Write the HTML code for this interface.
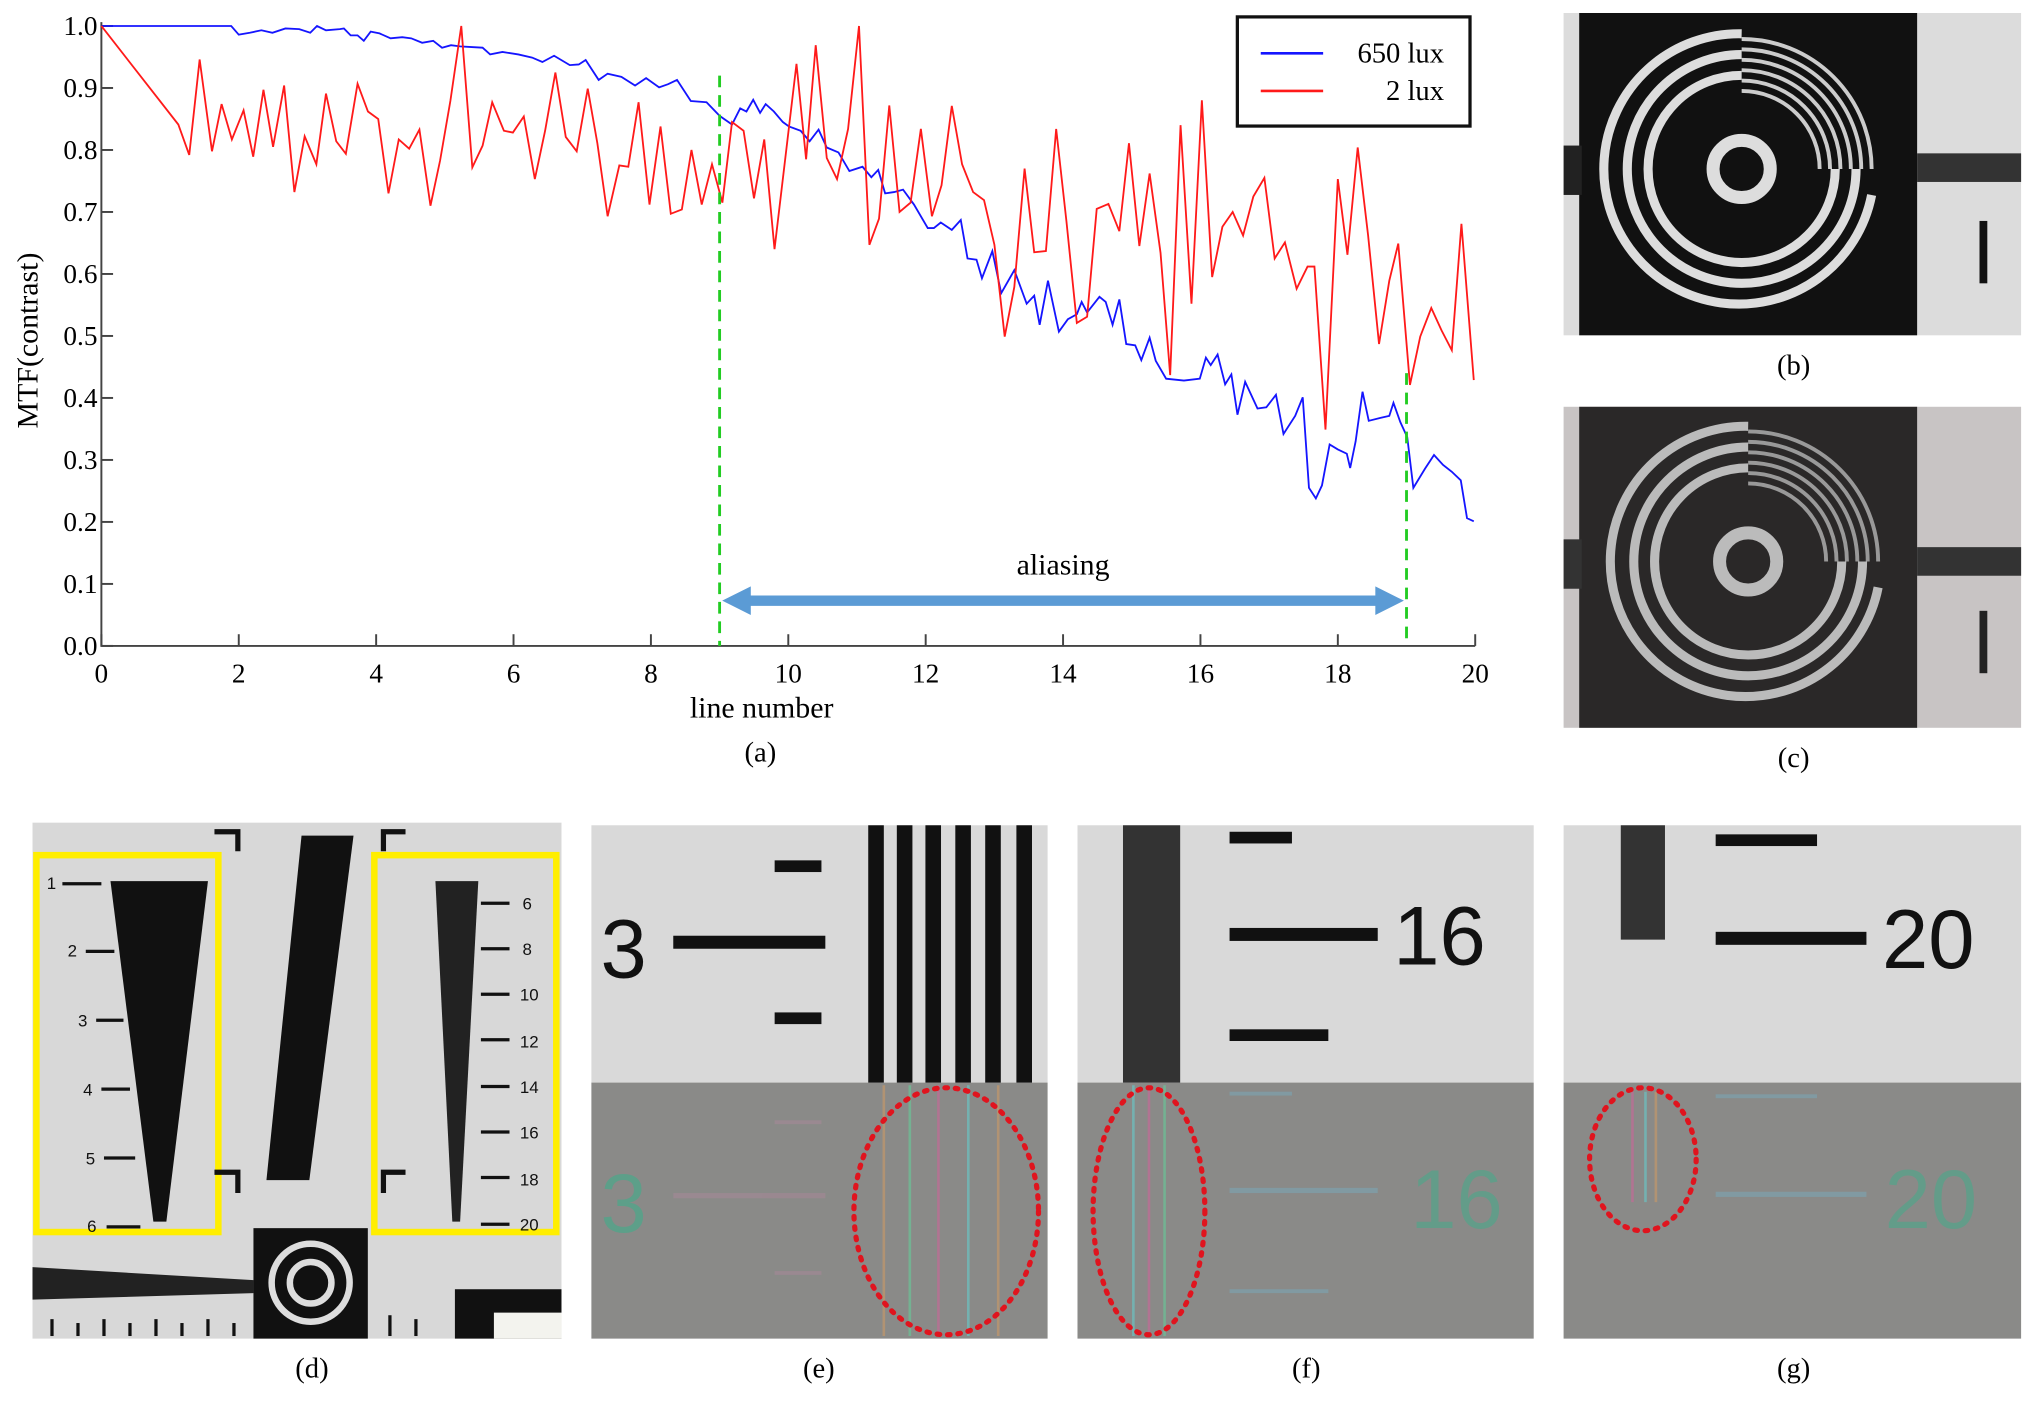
<!DOCTYPE html>
<html><head><meta charset="utf-8"><style>
html,body{margin:0;padding:0;background:#fff;}
svg{display:block;font-family:"Liberation Serif",serif;}
</style></head><body>
<svg id="fig" width="2038" height="1401" viewBox="0 0 1568 1078" preserveAspectRatio="none" xmlns="http://www.w3.org/2000/svg">
<rect width="1568" height="1078" fill="#fff"/>
<g id="chart"></g>

<!-- panel b -->
<g>
<rect x="1203" y="10" width="352" height="248" fill="#dcdcdc"/>
<rect x="1215" y="10" width="260" height="248" fill="#111"/>
<rect x="1203" y="112" width="14" height="38" fill="#222"/>
<rect x="1475" y="118" width="80" height="22" fill="#333"/>
<rect x="1523" y="170" width="6" height="48" fill="#111"/>
<g fill="none" stroke="#ddd" stroke-width="7">
<circle cx="1340" cy="130" r="22" stroke-width="10"/>
<path d="M1340 58 A72 72 0 1 0 1412 130"/><path d="M1340 42 A88 88 0 1 0 1428 130"/>
<path d="M1340 26 A104 104 0 1 0 1440 150"/>
</g>
<g fill="none" stroke="#ccc" stroke-width="3">
<path d="M1340 70 A60 60 0 0 1 1400 130"/><path d="M1340 62 A68 68 0 0 1 1408 130"/><path d="M1340 54 A76 76 0 0 1 1416 130"/><path d="M1340 46 A84 84 0 0 1 1424 130"/><path d="M1340 38 A92 92 0 0 1 1432 130"/><path d="M1340 30 A100 100 0 0 1 1440 130"/>
</g>
</g>
<text x="1380" y="288" font-size="22" text-anchor="middle">(b)</text>
<!-- panel c -->
<g>
<rect x="1203" y="313" width="352" height="247" fill="#c8c4c4"/>
<rect x="1215" y="313" width="260" height="247" fill="#2a2828"/>
<rect x="1203" y="415" width="14" height="38" fill="#333"/>
<rect x="1475" y="421" width="80" height="22" fill="#333"/>
<rect x="1523" y="470" width="6" height="48" fill="#222"/>
<g fill="none" stroke="#bbb" stroke-width="7">
<circle cx="1345" cy="432" r="22" stroke-width="10"/>
<path d="M1345 360 A72 72 0 1 0 1417 432"/><path d="M1345 344 A88 88 0 1 0 1433 432"/>
<path d="M1345 328 A104 104 0 1 0 1445 452"/>
</g>
<g fill="none" stroke="#999" stroke-width="3">
<path d="M1345 372 A60 60 0 0 1 1405 432"/><path d="M1345 364 A68 68 0 0 1 1413 432"/><path d="M1345 356 A76 76 0 0 1 1421 432"/><path d="M1345 348 A84 84 0 0 1 1429 432"/><path d="M1345 340 A92 92 0 0 1 1437 432"/><path d="M1345 332 A100 100 0 0 1 1445 432"/>
</g>
</g>
<text x="1380" y="590" font-size="22" text-anchor="middle">(c)</text>

<!-- panel d -->
<g>
<rect x="25" y="633" width="407" height="397" fill="#d8d8d8"/>
<polygon points="232,643 272,643 238,908 205,908" fill="#111"/>
<rect x="28" y="658" width="140" height="290" fill="none" stroke="#ffee00" stroke-width="5"/>
<rect x="288" y="658" width="140" height="290" fill="none" stroke="#ffee00" stroke-width="5"/>
<path d="M85 678 L160 678 L128 940 L118 940 Z" fill="#111"/>
<path d="M335 678 L368 678 L354 940 L348 940 Z" fill="#222"/>
<g stroke="#111" stroke-width="2.5">
<line x1="48" y1="680" x2="78" y2="680"/><line x1="66" y1="732" x2="88" y2="732"/><line x1="74" y1="785" x2="95" y2="785"/><line x1="78" y1="838" x2="100" y2="838"/><line x1="80" y1="891" x2="104" y2="891"/><line x1="82" y1="944" x2="108" y2="944"/>
<line x1="370" y1="695" x2="392" y2="695"/><line x1="370" y1="730" x2="392" y2="730"/><line x1="370" y1="765" x2="392" y2="765"/><line x1="370" y1="800" x2="392" y2="800"/><line x1="370" y1="836" x2="392" y2="836"/><line x1="370" y1="871" x2="392" y2="871"/><line x1="370" y1="906" x2="392" y2="906"/><line x1="370" y1="942" x2="392" y2="942"/>
<line x1="40" y1="1015" x2="40" y2="1028"/><line x1="60" y1="1018" x2="60" y2="1028"/><line x1="80" y1="1015" x2="80" y2="1028"/><line x1="100" y1="1018" x2="100" y2="1028"/><line x1="120" y1="1015" x2="120" y2="1028"/><line x1="140" y1="1018" x2="140" y2="1028"/><line x1="160" y1="1015" x2="160" y2="1028"/><line x1="180" y1="1018" x2="180" y2="1028"/>
<line x1="300" y1="1012" x2="300" y2="1028"/><line x1="320" y1="1015" x2="320" y2="1028"/>
</g>
<path d="M165 640 L183 640 L183 655 M295 655 L295 640 L312 640 M165 902 L183 902 L183 918 M295 918 L295 902 L312 902" fill="none" stroke="#111" stroke-width="4"/>
<rect x="195" y="945" width="88" height="85" fill="#111"/>
<circle cx="239" cy="987" r="30" fill="none" stroke="#ddd" stroke-width="5"/>
<circle cx="239" cy="987" r="16" fill="none" stroke="#ddd" stroke-width="5"/>
<polygon points="25,975 195,985 195,995 25,1000" fill="#222"/>
<rect x="350" y="992" width="82" height="38" fill="#111"/>
<rect x="380" y="1010" width="52" height="20" fill="#f3f3ee"/>
<g font-family="Liberation Sans,sans-serif" font-size="13" fill="#111">
<text x="36" y="684">1</text><text x="52" y="736">2</text><text x="60" y="790">3</text><text x="64" y="843">4</text><text x="66" y="896">5</text><text x="67" y="948">6</text>
<text x="402" y="700">6</text><text x="402" y="735">8</text><text x="400" y="770">10</text><text x="400" y="806">12</text><text x="400" y="841">14</text><text x="400" y="876">16</text><text x="400" y="912">18</text><text x="400" y="947">20</text>
</g>
</g>
<text x="240" y="1060" font-size="22" text-anchor="middle">(d)</text>

<!-- panel e -->
<g>
<rect x="455" y="635" width="351" height="198" fill="#d9d9d9"/>
<rect x="455" y="833" width="351" height="197" fill="#8a8a88"/>
<text x="462" y="752" font-family="Liberation Sans,sans-serif" font-size="64" fill="#111">3</text>
<rect x="518" y="720" width="117" height="10" fill="#111"/><rect x="596" y="662" width="36" height="9" fill="#111"/><rect x="596" y="779" width="36" height="9" fill="#111"/>
<g fill="#111"><rect x="668" y="635" width="12" height="198"/><rect x="690" y="635" width="12" height="198"/><rect x="712" y="635" width="12" height="198"/><rect x="735" y="635" width="12" height="198"/><rect x="758" y="635" width="12" height="198"/><rect x="782" y="635" width="12" height="198"/></g>
<g stroke-width="2" opacity="0.6"><line x1="680" y1="835" x2="680" y2="1028" stroke="#c96"/><line x1="700" y1="835" x2="700" y2="1028" stroke="#6c9"/><line x1="722" y1="835" x2="722" y2="1028" stroke="#c69"/><line x1="745" y1="835" x2="745" y2="1028" stroke="#6cc"/><line x1="768" y1="835" x2="768" y2="1028" stroke="#c96"/></g>
<g fill="#a89" opacity="0.5"><rect x="518" y="918" width="117" height="4"/><rect x="596" y="862" width="36" height="3"/><rect x="596" y="978" width="36" height="3"/></g>
<text x="462" y="948" font-family="Liberation Sans,sans-serif" font-size="64" fill="#4aa88a" opacity="0.7">3</text>
<ellipse cx="728" cy="932" rx="71" ry="95" fill="none" stroke="#e0141e" stroke-width="4" stroke-dasharray="2,6" stroke-linecap="round"/>
</g>
<text x="630" y="1060" font-size="22" text-anchor="middle">(e)</text>

<!-- panel f -->
<g>
<rect x="829" y="635" width="351" height="198" fill="#d9d9d9"/>
<rect x="829" y="833" width="351" height="197" fill="#8a8a88"/>
<rect x="864" y="635" width="44" height="198" fill="#333"/>
<rect x="946" y="640" width="48" height="9" fill="#111"/><rect x="946" y="714" width="114" height="10" fill="#111"/><rect x="946" y="792" width="76" height="9" fill="#111"/>
<text x="1072" y="742" font-family="Liberation Sans,sans-serif" font-size="64" fill="#111">16</text>
<g stroke-width="2" opacity="0.6"><line x1="872" y1="835" x2="872" y2="1028" stroke="#6cc"/><line x1="884" y1="835" x2="884" y2="1028" stroke="#c69"/><line x1="896" y1="835" x2="896" y2="1028" stroke="#6c9"/></g>
<g fill="#7ab" opacity="0.5"><rect x="946" y="914" width="114" height="4"/><rect x="946" y="840" width="48" height="3"/><rect x="946" y="992" width="76" height="3"/></g>
<text x="1085" y="945" font-family="Liberation Sans,sans-serif" font-size="64" fill="#4aa88a" opacity="0.6">16</text>
<ellipse cx="884" cy="932" rx="43" ry="95" fill="none" stroke="#e0141e" stroke-width="4" stroke-dasharray="2,6" stroke-linecap="round"/>
</g>
<text x="1005" y="1060" font-size="22" text-anchor="middle">(f)</text>

<!-- panel g -->
<g>
<rect x="1203" y="635" width="352" height="198" fill="#d9d9d9"/>
<rect x="1203" y="833" width="352" height="197" fill="#8a8a88"/>
<rect x="1247" y="635" width="34" height="88" fill="#333"/>
<rect x="1320" y="642" width="78" height="9" fill="#111"/><rect x="1320" y="717" width="116" height="10" fill="#111"/>
<text x="1448" y="745" font-family="Liberation Sans,sans-serif" font-size="64" fill="#111">20</text>
<g stroke-width="2" opacity="0.6"><line x1="1256" y1="840" x2="1256" y2="925" stroke="#c69"/><line x1="1266" y1="840" x2="1266" y2="925" stroke="#6cc"/><line x1="1274" y1="840" x2="1274" y2="925" stroke="#c96"/></g>
<g fill="#7ab" opacity="0.5"><rect x="1320" y="917" width="116" height="4"/><rect x="1320" y="842" width="78" height="3"/></g>
<text x="1450" y="945" font-family="Liberation Sans,sans-serif" font-size="64" fill="#4aa88a" opacity="0.6">20</text>
<ellipse cx="1264" cy="892" rx="41" ry="55" fill="none" stroke="#e0141e" stroke-width="4" stroke-dasharray="2,6" stroke-linecap="round"/>
</g>
<text x="1380" y="1060" font-size="22" text-anchor="middle">(g)</text>
</svg>
<script>
const xTicks = [0,2,4,6,8,10,12,14,16,18,20];
const yTicks = [0,0.1,0.2,0.3,0.4,0.5,0.6,0.7,0.8,0.9,1.0];
const yTickLabels = ["0.0","0.1","0.2","0.3","0.4","0.5","0.6","0.7","0.8","0.9","1.0"];
const redX = [0,1.12,1.28,1.43,1.61,1.75,1.90,2.07,2.21,2.36,2.50,2.66,2.81,2.96,3.13,3.27,3.42,3.56,3.73,3.88,4.03,4.18,4.33,4.48,4.63,4.79,4.93,5.08,5.24,5.40,5.55,5.69,5.86,5.99,6.15,6.31,6.46,6.61,6.76,6.92,7.08,7.22,7.37,7.54,7.67,7.82,7.98,8.14,8.29,8.45,8.59,8.74,8.89,9.04,9.18,9.35,9.50,9.65,9.80,
10.12,10.26,10.40,10.56,10.71,10.87,11.03,11.18,11.32,11.47,11.62,11.78,11.93,12.09,12.23,12.38,12.53,12.69,12.85,13.00,13.15,13.29,13.44,13.58,13.75,13.90,14.05,14.20,14.35,14.49,14.66,14.82,14.96,15.11,15.26,15.42,15.56,15.71,15.87,16.02,16.17,16.32,16.47,16.62,16.77,16.93,17.08,17.23,17.40,17.56,17.66,17.82,18.00,18.14,18.29,18.44,18.60,18.75,18.88,19.05,19.20,19.36,19.51,19.66,19.80,19.98];
const redY = [1.0,0.841,0.792,0.946,0.798,0.874,0.817,0.864,0.789,0.897,0.805,0.904,0.732,0.822,0.777,0.891,0.814,0.794,0.907,0.862,0.850,0.730,0.817,0.802,0.833,0.710,0.783,0.879,1.0,0.772,0.807,0.877,0.831,0.828,0.854,0.753,0.831,0.925,0.821,0.798,0.899,0.811,0.693,0.775,0.773,0.877,0.712,0.838,0.697,0.704,0.800,0.712,0.777,0.715,0.845,0.831,0.722,0.817,0.640,
0.939,0.785,0.969,0.787,0.753,0.834,1.0,0.647,0.689,0.872,0.700,0.715,0.834,0.693,0.743,0.871,0.777,0.732,0.719,0.647,0.499,0.579,0.770,0.635,0.637,0.834,0.685,0.521,0.531,0.705,0.713,0.669,0.811,0.645,0.762,0.634,0.437,0.840,0.552,0.880,0.595,0.676,0.700,0.662,0.725,0.755,0.625,0.651,0.576,0.612,0.612,0.349,0.753,0.631,0.804,0.662,0.487,0.589,0.649,0.421,0.499,0.545,0.509,0.477,0.681,0.429];
const blueX = [0,1.89,2.00,2.16,2.33,2.49,2.68,2.88,3.04,3.14,3.27,3.47,3.53,3.63,3.73,3.82,3.92,4.05,4.21,4.38,4.51,4.67,4.83,4.96,5.09,5.22,5.39,5.55,5.66,5.84,6.07,6.27,6.42,6.59,6.82,6.95,7.05,7.24,7.37,7.57,7.77,7.93,8.12,8.25,8.38,8.58,8.81,9.00,9.18,9.30,9.39,9.49,9.59,9.67,9.79,9.92,
10.01,10.18,10.31,10.44,10.56,10.73,10.89,11.08,11.21,11.31,11.41,11.54,11.67,11.83,12.03,12.12,12.22,12.38,12.51,12.61,12.74,12.82,12.97,13.10,13.29,13.47,13.58,13.66,13.78,13.94,14.07,14.20,14.27,14.35,14.53,14.62,14.72,14.82,14.92,15.05,15.14,15.26,15.35,15.50,15.76,15.99,16.08,16.15,16.25,16.36,16.45,16.54,16.65,16.83,16.96,17.10,17.21,17.38,17.49,17.58,17.68,17.77,17.88,18.00,18.13,18.18,18.26,18.36,18.45,18.62,18.75,18.81,18.91,19.01,19.10,19.27,19.40,19.53,19.66,19.79,19.88,19.98];
const blueY = [1.0,1.0,0.986,0.989,0.993,0.989,0.996,0.995,0.989,1.0,0.993,0.995,0.996,0.985,0.985,0.976,0.991,0.988,0.980,0.982,0.980,0.973,0.976,0.965,0.969,0.967,0.966,0.965,0.954,0.958,0.954,0.949,0.942,0.952,0.937,0.938,0.945,0.913,0.923,0.918,0.904,0.916,0.901,0.906,0.913,0.879,0.877,0.855,0.841,0.867,0.862,0.881,0.860,0.874,0.862,0.845,
0.838,0.831,0.814,0.833,0.804,0.796,0.766,0.773,0.756,0.768,0.730,0.732,0.736,0.712,0.674,0.674,0.683,0.671,0.687,0.625,0.623,0.593,0.637,0.569,0.606,0.552,0.565,0.518,0.589,0.507,0.527,0.535,0.555,0.538,0.563,0.555,0.518,0.559,0.487,0.485,0.461,0.497,0.460,0.431,0.428,0.431,0.465,0.453,0.470,0.422,0.438,0.373,0.426,0.383,0.385,0.405,0.342,0.371,0.401,0.255,0.238,0.259,0.325,0.317,0.310,0.287,0.330,0.410,0.363,0.368,0.371,0.392,0.361,0.337,0.255,0.286,0.308,0.292,0.281,0.267,0.206,0.201];
const aliasStart = 9, aliasEnd = 19;

const NS = "http://www.w3.org/2000/svg";
const X0 = 78, X1 = 1135, Y0 = 497, Y1 = 20;
const sx = v => X0 + (v - 0) / 20 * (X1 - X0);
const sy = v => Y0 - v * (Y0 - Y1);
const g = document.getElementById('chart');
function mk(tag, attrs, parent) {
  const e = document.createElementNS(NS, tag);
  for (const k in attrs) e.setAttribute(k, attrs[k]);
  (parent || g).appendChild(e);
  return e;
}
let ax = mk('path', {d:`M${X0} ${Y1-3} L${X0} ${Y0} L${X1} ${Y0}`, fill:'none', stroke:'#444', 'stroke-width':1.5});


xTicks.forEach(t => {
  const tk = mk('line', {x1:sx(t), x2:sx(t), y1:Y0, y2:Y0-9, stroke:'#444', 'stroke-width':1.5});
  
  
  const lb = mk('text', {x:sx(t), y:Y0+28, 'font-size':21, 'text-anchor':'middle'});
  lb.textContent = t;
  
  
});
yTicks.forEach((t, i) => {
  const tk = mk('line', {x1:X0, x2:X0+9, y1:sy(t), y2:sy(t), stroke:'#444', 'stroke-width':1.5});
  
  
  const lb = mk('text', {x:X0-3, y:sy(t)+7, 'font-size':21, 'text-anchor':'end'});
  lb.textContent = yTickLabels[i];
  
  
});
let t1 = mk('text', {x:586, y:552, 'font-size':23, 'text-anchor':'middle'});
t1.textContent = 'line number';


let t2 = mk('text', {x:0, y:0, 'font-size':23, 'text-anchor':'middle', transform:'translate(29,262) rotate(-90)'});
t2.textContent = 'MTF(contrast)';


let t3 = mk('text', {x:585, y:586, 'font-size':22, 'text-anchor':'middle'});
t3.textContent = '(a)';


const pts = (xs, ys) => xs.map((x, i) => sx(x).toFixed(1) + ',' + sy(ys[i]).toFixed(1)).join(' ');
let bl = mk('polyline', {points:pts(blueX, blueY), fill:'none', stroke:'#1515ff', 'stroke-width':1.4});


let rl = mk('polyline', {points:pts(redX, redY), fill:'none', stroke:'#ff1a1a', 'stroke-width':1.4});


let d1 = mk('line', {x1:sx(aliasStart), x2:sx(aliasStart), y1:sy(0.92), y2:Y0, stroke:'#22cc22', 'stroke-width':2.2, 'stroke-dasharray':'9,6'});


let d2 = mk('line', {x1:sx(aliasEnd), x2:sx(aliasEnd), y1:sy(0.44), y2:Y0, stroke:'#22cc22', 'stroke-width':2.2, 'stroke-dasharray':'9,6'});


const ay = sy(0.073), a0 = sx(aliasStart)+2, a1 = sx(aliasEnd)-2;
let ar = mk('path', {d:`M${a0} ${ay} L${a0+22} ${ay-11} L${a0+22} ${ay-4} L${a1-22} ${ay-4} L${a1-22} ${ay-11} L${a1} ${ay} L${a1-22} ${ay+11} L${a1-22} ${ay+4} L${a0+22} ${ay+4} L${a0+22} ${ay+11} Z`, fill:'#5b9bd5'});


let at = mk('text', {x:(sx(aliasStart)+sx(aliasEnd))/2, y:ay-20, 'font-size':23, 'text-anchor':'middle'});
at.textContent = 'aliasing';


const lg = mk('g', {});


mk('rect', {x:952, y:13, width:179, height:84, fill:'#fff', stroke:'#111', 'stroke-width':2.5}, lg);
mk('line', {x1:970, x2:1018, y1:41, y2:41, stroke:'#1515ff', 'stroke-width':2}, lg);
mk('line', {x1:970, x2:1018, y1:70, y2:70, stroke:'#ff1a1a', 'stroke-width':2}, lg);
let l1 = mk('text', {x:1111, y:48, 'font-size':22, 'text-anchor':'end'}, lg);
l1.textContent = '650 lux';


let l2 = mk('text', {x:1111, y:77, 'font-size':22, 'text-anchor':'end'}, lg);
l2.textContent = '2 lux';


</script>
</body></html>
